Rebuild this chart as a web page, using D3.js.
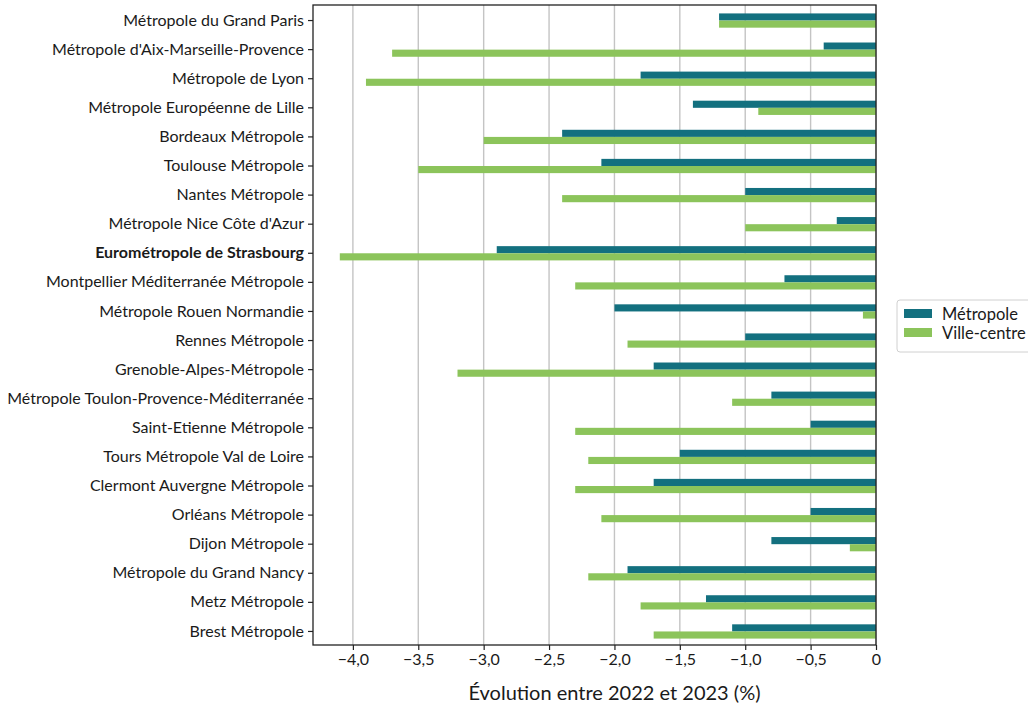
<!DOCTYPE html>
<html lang="fr">
<head>
  <meta charset="UTF-8">
  <title>Évolution entre 2022 et 2023</title>
  <script src="https://d3js.org/d3.v7.min.js"></script>
  <style>
    body { margin: 0; background: #fff; font-family: Lato, 'Open Sans', sans-serif; }
    svg text { fill: #1a1a1a; }
  </style>
</head>
<body>
  <div id="chart"></div>
  <script>
    const metropoles = [
      "Métropole du Grand Paris",
      "Métropole d'Aix-Marseille-Provence",
      "Métropole de Lyon",
      "Métropole Européenne de Lille",
      "Bordeaux Métropole",
      "Toulouse Métropole",
      "Nantes Métropole",
      "Métropole Nice Côte d'Azur",
      "Eurométropole de Strasbourg",
      "Montpellier Méditerranée Métropole",
      "Métropole Rouen Normandie",
      "Rennes Métropole",
      "Grenoble-Alpes-Métropole",
      "Métropole Toulon-Provence-Méditerranée",
      "Saint-Etienne Métropole",
      "Tours Métropole Val de Loire",
      "Clermont Auvergne Métropole",
      "Orléans Métropole",
      "Dijon Métropole",
      "Métropole du Grand Nancy",
      "Metz Métropole",
      "Brest Métropole"
    ];
    const metropole = [-1.2, -0.4, -1.8, -1.4, -2.4, -2.1, -1.0, -0.3, -2.9, -0.7, -2.0,
                       -1.0, -1.7, -0.8, -0.5, -1.5, -1.7, -0.5, -0.8, -1.9, -1.3, -1.1];
    const villeCentre = [-1.2, -3.7, -3.9, -0.9, -3.0, -3.5, -2.4, -1.0, -4.1, -2.3, -0.1,
                         -1.9, -3.2, -1.1, -2.3, -2.2, -2.3, -2.1, -0.2, -2.2, -1.8, -1.7];
    const xTicks = [-4.0, -3.5, -3.0, -2.5, -2.0, -1.5, -1.0, -0.5, 0];
    const highlighted = "Eurométropole de Strasbourg";

    const series = [
      { label: "Métropole", values: metropole, color: "#13707f" },
      { label: "Ville-centre", values: villeCentre, color: "#8cc45b" }
    ];

    const W = 1028, H = 710;
    const plot = { left: 313, right: 876, top: 5, bottom: 645 };

    const svg = d3.select("#chart").append("svg")
      .attr("width", W).attr("height", H);

    const x = d3.scaleLinear().domain([-4.305, 0]).range([plot.left, plot.right]);
    const y = d3.scaleBand().domain(metropoles).range([plot.top + 1, plot.bottom + 1]);
    const barH = y.bandwidth() * 0.245;

    // grille verticale
    svg.append("g").selectAll("line")
      .data(xTicks)
      .join("line")
      .attr("x1", d => x(d)).attr("x2", d => x(d))
      .attr("y1", plot.top).attr("y2", plot.bottom)
      .attr("stroke", "#c4c4c4").attr("stroke-width", 1.4);

    // barres
    series.forEach((s, si) => {
      svg.append("g").selectAll("rect")
        .data(s.values)
        .join("rect")
        .attr("x", d => x(d))
        .attr("width", d => x(0) - x(d))
        .attr("y", (d, i) => y(metropoles[i]) + y.bandwidth() / 2 - barH + si * barH)
        .attr("height", barH)
        .attr("fill", s.color);
    });

    // cadre
    svg.append("rect")
      .attr("x", plot.left).attr("y", plot.top)
      .attr("width", plot.right - plot.left).attr("height", plot.bottom - plot.top)
      .attr("fill", "none").attr("stroke", "#222").attr("stroke-width", 1.3);

    const fmt = d => d === 0 ? "0" : d3.format(".1f")(d).replace(".", ",");

    svg.append("g")
      .attr("transform", `translate(0,${plot.bottom})`)
      .call(d3.axisBottom(x).tickValues(xTicks).tickFormat(fmt).tickSize(5).tickPadding(4))
      .call(g => g.select(".domain").remove())
      .call(g => g.selectAll("line").attr("stroke", "#222").attr("stroke-width", 1.2))
      .call(g => g.selectAll("text").attr("font-size", 16).attr("font-family", "Lato"));

    svg.append("g")
      .attr("transform", `translate(${plot.left},0)`)
      .call(d3.axisLeft(y).tickSize(5).tickPadding(4))
      .call(g => g.select(".domain").remove())
      .call(g => g.selectAll("line").attr("stroke", "#222").attr("stroke-width", 1.2))
      .call(g => g.selectAll("text")
        .attr("font-size", 16).attr("font-family", "Lato")
        .attr("font-weight", d => d === highlighted ? "bold" : "normal"));

    svg.append("text")
      .attr("x", (plot.left + plot.right) / 2 + 20)
      .attr("y", 700)
      .attr("text-anchor", "middle")
      .attr("font-size", 20)
      .text("Évolution entre 2022 et 2023 (%)");

    // légende
    const leg = svg.append("g").attr("transform", "translate(897,300)");
    leg.append("rect")
      .attr("width", 140).attr("height", 52).attr("rx", 3)
      .attr("fill", "#fff").attr("stroke", "#d0d0d0");
    series.forEach((s, i) => {
      leg.append("rect")
        .attr("x", 7).attr("y", 9 + i * 19)
        .attr("width", 28).attr("height", 9)
        .attr("fill", s.color);
      leg.append("text")
        .attr("x", 45).attr("y", 14 + i * 19)
        .attr("dy", "0.35em")
        .attr("font-size", 16.5)
        .text(s.label);
    });
  </script>
</body>
</html>
